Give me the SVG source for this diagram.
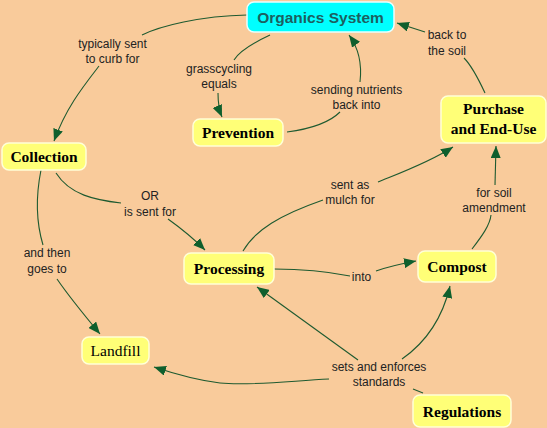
<svg xmlns="http://www.w3.org/2000/svg" width="547" height="428" viewBox="0 0 547 428">
<style>
.node{fill:#FFFF77;stroke:#FFFFD8;stroke-width:1.5}
.top{fill:#00FFFF;stroke:#E8FFFF;stroke-width:1.5}
.nt{font-family:"Liberation Serif",serif;font-weight:bold;font-size:15.5px;fill:#000;text-anchor:middle}
.lbl{font-family:"Liberation Sans",Arial,sans-serif;font-size:12px;fill:#222;text-anchor:middle}
.c{fill:none;stroke:#1E5A30;stroke-width:1.1}
</style>
<defs>
<marker id="ah" markerUnits="userSpaceOnUse" markerWidth="13" markerHeight="10" refX="12" refY="5" orient="auto">
<path d="M0,0 L12,5 L0,10 z" fill="#0F5F2D"/>
</marker>
</defs>
<rect width="547" height="428" fill="#F9CB9B"/>
<g id="connectors">
<path class="c" d="M247,15 C200,16 160,26 142,35"/>
<path class="c" d="M99,66 C82,88 66,108 54,141" marker-end="url(#ah)"/>
<path class="c" d="M270,35 C255,42 240,50 234,60"/>
<path class="c" d="M218,93 C218,103 219,110 222,117" marker-end="url(#ah)"/>
<path class="c" d="M287,132 C310,129 330,122 340,112"/>
<path class="c" d="M360,82 C362,65 360,50 349,35" marker-end="url(#ah)"/>
<path class="c" d="M485,93 C478,78 472,66 464,58"/>
<path class="c" d="M425,32 L397,23" marker-end="url(#ah)"/>
<path class="c" d="M56,173 C70,195 95,200 121,203"/>
<path class="c" d="M168,219 C182,229 194,239 205,250" marker-end="url(#ah)"/>
<path class="c" d="M41,170 C35,200 37,225 43,245"/>
<path class="c" d="M57,279 C70,298 85,316 100,334" marker-end="url(#ah)"/>
<path class="c" d="M243,251 C255,230 280,215 323,200"/>
<path class="c" d="M378,182 C400,173 430,162 453,147" marker-end="url(#ah)"/>
<path class="c" d="M472,249 C482,236 490,225 491,215"/>
<path class="c" d="M495,185 L496,146" marker-end="url(#ah)"/>
<path class="c" d="M274,269 C300,269 330,272 350,276"/>
<path class="c" d="M376,271 C390,266 400,264 416,261" marker-end="url(#ah)"/>
<path class="c" d="M423,393 L413,389"/>
<path class="c" d="M358,360 L257,287" marker-end="url(#ah)"/>
<path class="c" d="M402,359 C425,343 442,320 450,286" marker-end="url(#ah)"/>
<path class="c" d="M329,379 C290,381 250,386 220,383 C195,380 175,374 154,367" marker-end="url(#ah)"/>
</g>
<g id="labels">
<text class="lbl" x="112.5" y="47.5">typically sent</text>
<text class="lbl" x="112.5" y="63">to curb for</text>
<text class="lbl" x="219" y="73">grasscycling</text>
<text class="lbl" x="219" y="87.5">equals</text>
<text class="lbl" x="356.5" y="94">sending nutrients</text>
<text class="lbl" x="356.5" y="109">back into</text>
<text class="lbl" x="447" y="39">back to</text>
<text class="lbl" x="447" y="55">the soil</text>
<text class="lbl" x="150" y="200">OR</text>
<text class="lbl" x="150" y="216">is sent for</text>
<text class="lbl" x="47" y="257">and then</text>
<text class="lbl" x="47" y="273">goes to</text>
<text class="lbl" x="350" y="189">sent as</text>
<text class="lbl" x="350" y="203.5">mulch for</text>
<text class="lbl" x="494" y="197">for soil</text>
<text class="lbl" x="494" y="212">amendment</text>
<text class="lbl" x="361.5" y="281">into</text>
<text class="lbl" x="379" y="371">sets and enforces</text>
<text class="lbl" x="379" y="386">standards</text>
</g>
<g id="organics-system">
<rect class="top" x="247" y="2" width="147" height="30" rx="7"/>
<text x="320.5" y="22.5" font-family="'Liberation Sans',Arial,sans-serif" font-weight="bold" font-size="15.5" fill="#1C5F60" text-anchor="middle">Organics System</text>
</g>
<g id="prevention">
<rect class="node" x="193" y="119" width="90" height="27" rx="7"/>
<text class="nt" x="238" y="138">Prevention</text>
</g>
<g id="collection">
<rect class="node" x="2" y="143" width="84" height="27" rx="7"/>
<text class="nt" x="44" y="162">Collection</text>
</g>
<g id="purchase">
<rect class="node" x="441" y="96" width="105" height="47" rx="7"/>
<text class="nt" x="493.5" y="113.5">Purchase</text>
<text class="nt" x="493.5" y="133.5">and End-Use</text>
</g>
<g id="processing">
<rect class="node" x="184" y="253" width="90" height="31" rx="7"/>
<text class="nt" x="229" y="274">Processing</text>
</g>
<g id="compost">
<rect class="node" x="418" y="251" width="78" height="31" rx="7"/>
<text class="nt" x="457" y="272">Compost</text>
</g>
<g id="landfill">
<rect class="node" x="82" y="337" width="67" height="27" rx="7"/>
<text class="nt" x="115.5" y="356" font-weight="normal" style="font-weight:normal">Landfill</text>
</g>
<g id="regulations">
<rect class="node" x="413" y="395" width="98" height="32" rx="7"/>
<text class="nt" x="462" y="416.5">Regulations</text>
</g>
</svg>
